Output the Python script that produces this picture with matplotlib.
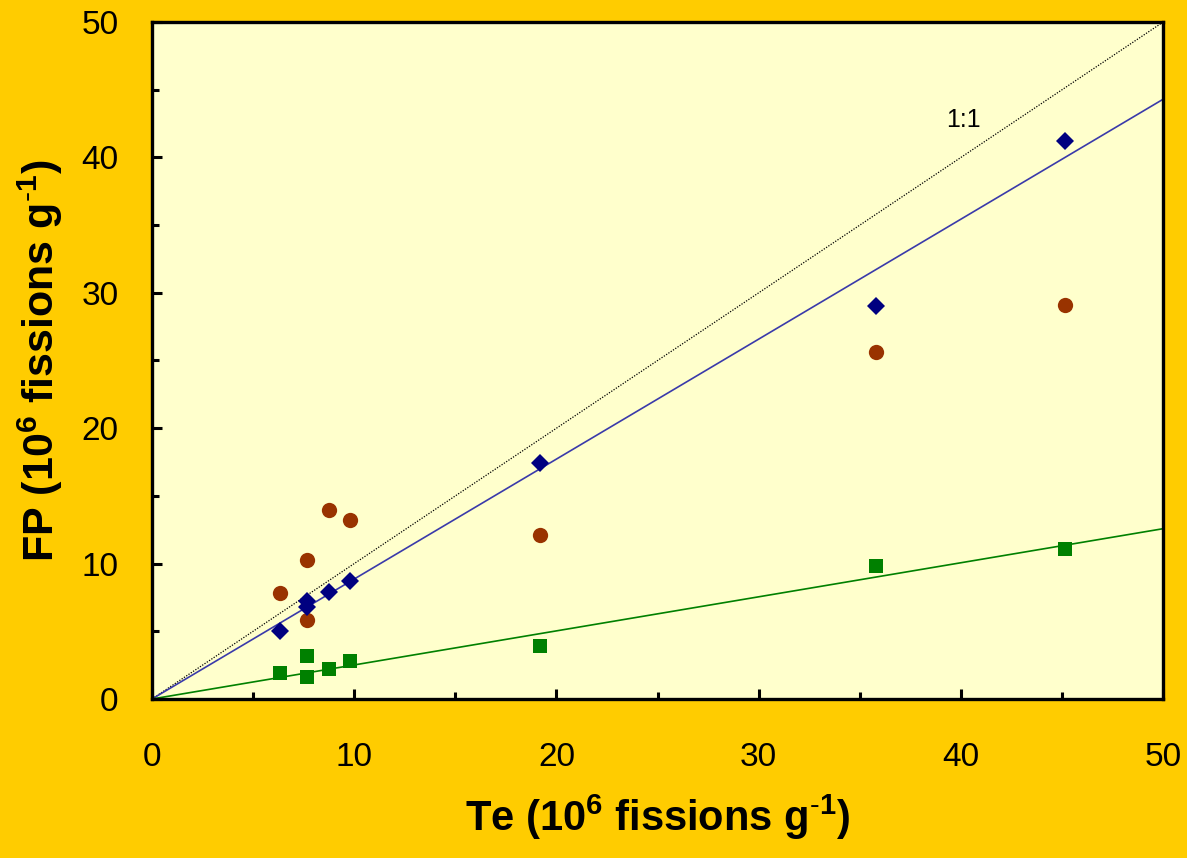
import numpy as np
import matplotlib
matplotlib.use('Agg')
import matplotlib.pyplot as plt
from matplotlib.ticker import MultipleLocator

plt.rcParams['font.family'] = ['Liberation Sans', 'DejaVu Sans']
plt.rcParams['mathtext.fontset'] = 'custom'
plt.rcParams['mathtext.rm'] = 'Liberation Sans'
plt.rcParams['mathtext.bf'] = 'Liberation Sans:bold'

# Te values (10^6 fissions/g), shared by all three series
te = [6.35, 7.65, 7.65, 8.75, 9.77, 19.2, 35.8, 45.15]

# FP estimates for each method
fp_diamond = [5.02, 7.24, 6.80, 7.90, 8.71, 17.43, 29.03, 41.20]
fp_circle = [7.83, 10.27, 5.83, 13.96, 13.22, 12.11, 25.63, 29.10]
fp_square = [1.90, 3.20, 1.65, 2.22, 2.78, 3.91, 9.82, 11.08]

# regression slopes (through origin) drawn as lines
slope_diamond = 0.886
slope_square = 0.2516

gold = '#FFCC00'
fig = plt.figure(figsize=(11.87, 8.58), dpi=100, facecolor=gold)
ax = fig.add_axes([0.128, 0.1853, 0.852, 0.7891])
ax.set_facecolor('#FFFFCC')

xl = np.array([0, 50])
ax.plot(xl, xl, color='black', lw=0.9, ls=(0, (1, 1.2)), zorder=2)
ax.plot(xl, slope_diamond * xl, color='#3A3AAA', lw=1.2, zorder=2)
ax.plot(xl, slope_square * xl, color='#008000', lw=1.2, zorder=2)

ax.plot(te, fp_circle, 'o', color='#993300', ms=11, mew=0, zorder=3)
ax.plot(te, fp_square, 's', color='#008000', ms=10.5, mew=0, zorder=3)
ax.plot(te, fp_diamond, 'D', color='#000080', ms=9.5, mew=0, zorder=4)

ax.text(40.1, 42.76, '1:1', fontsize=18, ha='center', va='center')

ax.set_xlim(0, 50)
ax.set_ylim(0, 50)
ax.xaxis.set_major_locator(MultipleLocator(10))
ax.xaxis.set_minor_locator(MultipleLocator(5))
ax.yaxis.set_major_locator(MultipleLocator(10))
ax.yaxis.set_minor_locator(MultipleLocator(5))
ax.tick_params(which='both', direction='in', width=2.2, labelsize=24)
ax.tick_params(which='major', length=7)
ax.tick_params(which='minor', length=5)
ax.tick_params(axis='x', which='major', pad=31)
ax.tick_params(axis='y', which='major', pad=24)
for s in ax.spines.values():
    s.set_linewidth(2.4)

ax.set_xlabel(r'Te (10$^\mathbf{6}$ fissions g$^\mathbf{\text{-}1}$)', fontsize=30,
              fontweight='bold', labelpad=14)
ax.set_ylabel(r'FP (10$^\mathbf{6}$ fissions g$^\mathbf{\text{-}1}$)', fontsize=31,
              fontweight='bold', labelpad=12)

fig.savefig('out.png', dpi=100, facecolor=gold)
